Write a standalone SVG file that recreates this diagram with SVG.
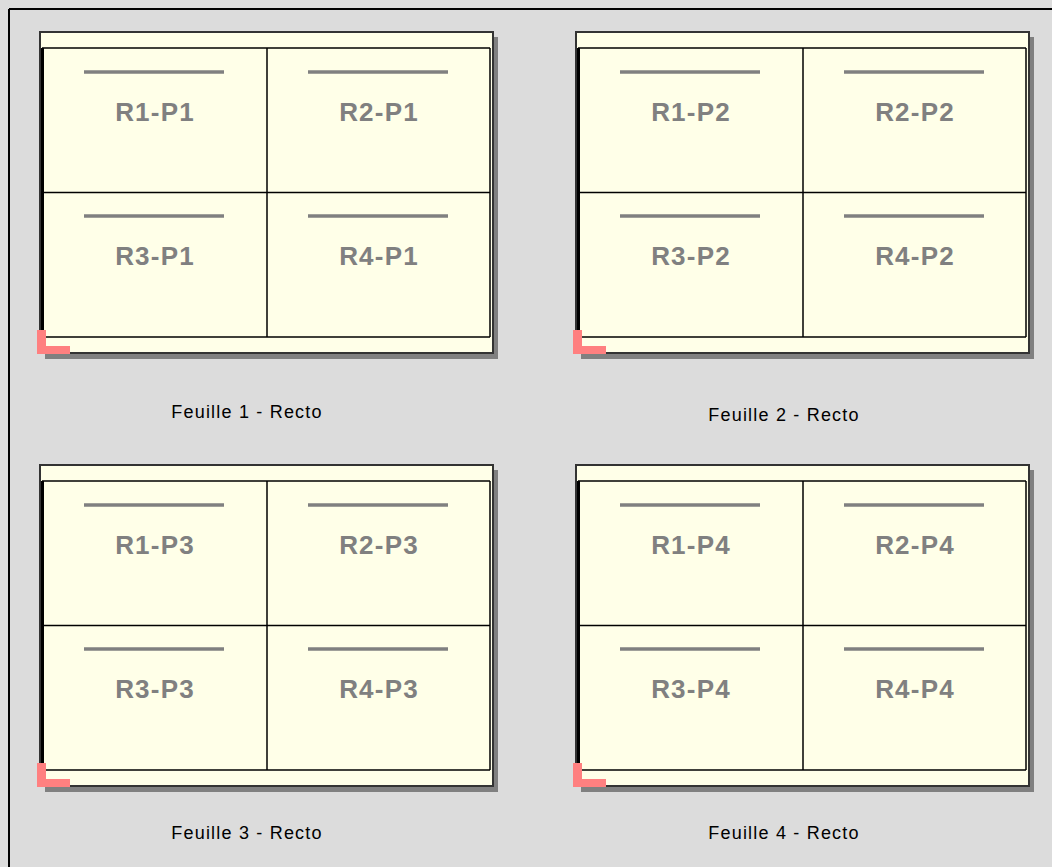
<svg xmlns="http://www.w3.org/2000/svg" xmlns:xlink="http://www.w3.org/1999/xlink" width="1052" height="867" viewBox="0 0 1052 867">
<style>
.page{fill:#dcdcdc}
.shadow{fill:#808080}
.paper{fill:#ffffe8;stroke:#333;stroke-width:2}
.ln{stroke:#000;stroke-width:1.5;fill:none}
.thick{stroke:#000;stroke-width:3;fill:none}
.bar{stroke:#808080;stroke-width:3.5}
.mark{fill:#ff8080}
.cell{font-family:"Liberation Sans",Arial,sans-serif;font-size:26px;font-weight:bold;letter-spacing:1.2px;fill:#808080;text-anchor:middle;dominant-baseline:central}
.lbl{font-family:"Liberation Sans",Arial,sans-serif;font-size:18px;letter-spacing:1.2px;fill:#000;text-anchor:middle}
</style>
<defs>
<g id="sheet">
<rect class="shadow" x="5" y="5" width="453" height="322"/>
<rect class="paper" x="0" y="0" width="453" height="321"/>
<line class="ln" x1="2" y1="16" x2="450" y2="16"/>
<line class="ln" x1="2" y1="305" x2="450" y2="305"/>
<line class="ln" x1="450" y1="16" x2="450" y2="305"/>
<line class="thick" x1="2.5" y1="16" x2="2.5" y2="305"/>
<line class="ln" x1="227" y1="16" x2="227" y2="305"/>
<line class="ln" x1="2" y1="160.5" x2="450" y2="160.5"/>
<line class="bar" x1="44" y1="40" x2="184" y2="40"/>
<line class="bar" x1="268" y1="40" x2="408" y2="40"/>
<line class="bar" x1="44" y1="184" x2="184" y2="184"/>
<line class="bar" x1="268" y1="184" x2="408" y2="184"/>
<rect class="mark" x="-3" y="298" width="9" height="24"/>
<rect class="mark" x="-3" y="314" width="33" height="8"/>
</g>
</defs>
<rect class="page" x="0" y="0" width="1052" height="867"/>
<line x1="9" y1="9" x2="1052" y2="9" stroke="#000" stroke-width="2"/>
<line x1="9" y1="9" x2="9" y2="867" stroke="#000" stroke-width="2"/>
<g id="sheet1" transform="translate(40,32)">
<use xlink:href="#sheet"/>
<text class="cell" x="115" y="80">R1-P1</text>
<text class="cell" x="339" y="80">R2-P1</text>
<text class="cell" x="115" y="224">R3-P1</text>
<text class="cell" x="339" y="224">R4-P1</text>
</g>
<g id="sheet2" transform="translate(576,32)">
<use xlink:href="#sheet"/>
<text class="cell" x="115" y="80">R1-P2</text>
<text class="cell" x="339" y="80">R2-P2</text>
<text class="cell" x="115" y="224">R3-P2</text>
<text class="cell" x="339" y="224">R4-P2</text>
</g>
<g id="sheet3" transform="translate(40,465)">
<use xlink:href="#sheet"/>
<text class="cell" x="115" y="80">R1-P3</text>
<text class="cell" x="339" y="80">R2-P3</text>
<text class="cell" x="115" y="224">R3-P3</text>
<text class="cell" x="339" y="224">R4-P3</text>
</g>
<g id="sheet4" transform="translate(576,465)">
<use xlink:href="#sheet"/>
<text class="cell" x="115" y="80">R1-P4</text>
<text class="cell" x="339" y="80">R2-P4</text>
<text class="cell" x="115" y="224">R3-P4</text>
<text class="cell" x="339" y="224">R4-P4</text>
</g>
<g id="labels">
<text class="lbl" x="247" y="418">Feuille 1 - Recto</text>
<text class="lbl" x="784" y="421">Feuille 2 - Recto</text>
<text class="lbl" x="247" y="839">Feuille 3 - Recto</text>
<text class="lbl" x="784" y="839">Feuille 4 - Recto</text>
</g>
<g id="connectors"/>
</svg>
